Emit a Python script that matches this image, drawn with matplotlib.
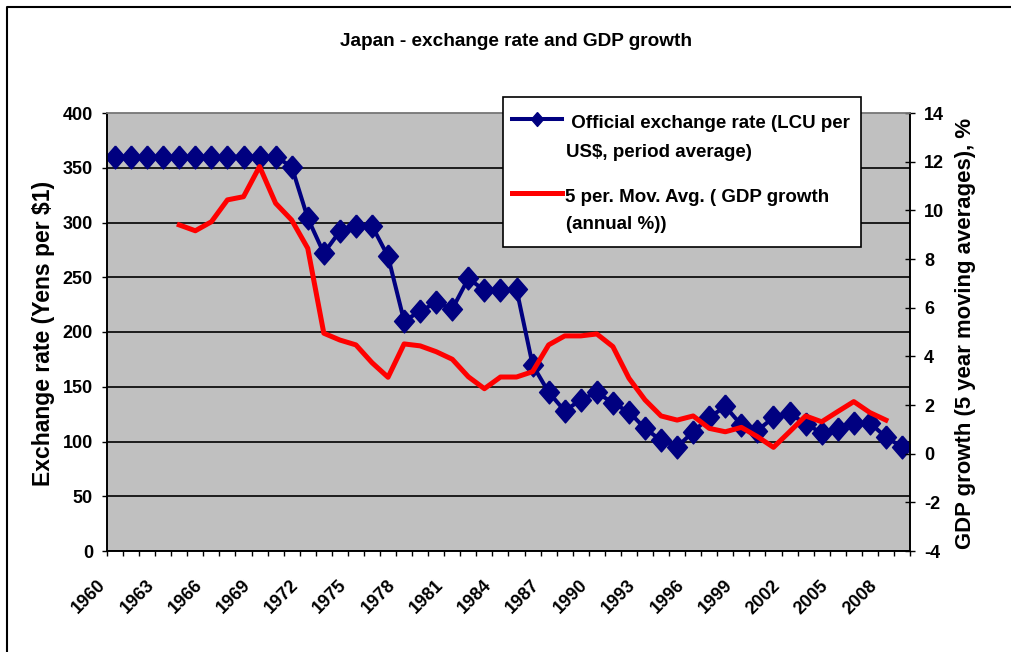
import numpy as np
import matplotlib
matplotlib.use('Agg')
import matplotlib.pyplot as plt
import matplotlib.transforms as mtransforms
from matplotlib.lines import Line2D
from matplotlib.patches import Rectangle

# data
years = list(range(1960, 2010))
exchange_rate = [360, 360, 360, 360, 360, 360, 360, 360, 360, 360, 360,
                 351, 304, 272, 292, 297, 297, 269, 210, 219, 227, 221,
                 249, 238, 238, 239, 170, 145, 128, 138, 145, 135, 127,
                 112, 101, 95, 109, 122, 132, 115, 110, 122, 126, 116,
                 108, 111, 117, 117, 104, 95]
gdp_ma = [None, None, None, None,
          9.4, 9.16, 9.53, 10.43, 10.56, 11.8, 10.29, 9.6, 8.44, 4.95,
          4.67, 4.47, 3.74, 3.14, 4.51, 4.43, 4.19, 3.88, 3.16, 2.67,
          3.15, 3.15, 3.37, 4.47, 4.84, 4.84, 4.92, 4.40, 3.10, 2.21,
          1.55, 1.38, 1.55, 1.04, 0.90, 1.08, 0.70, 0.26, 0.90, 1.55,
          1.31, 1.73, 2.14, 1.69, 1.38,
          None]
label_every = 3

title = "Japan - exchange rate and GDP growth"
left_label = "Exchange rate (Yens per $1)"
right_label = "GDP growth (5 year moving averages), %"
legend_lines = [" Official exchange rate (LCU per", "US$, period average)",
                "5 per. Mov. Avg. ( GDP growth", "(annual %))"]

NAVY = '#000080'
RED = '#FF0000'

plt.rcParams['font.family'] = ['Liberation Sans', 'DejaVu Sans']
plt.rcParams['font.weight'] = 'bold'
plt.rcParams['axes.unicode_minus'] = False

W, H = 1012, 652
fig = plt.figure(figsize=(W / 100, H / 100), dpi=100)


def fx(px):
    return px / W


def fy(py):
    return 1 - py / H


ax = fig.add_axes([fx(107), fy(551), fx(910) - fx(107), fy(113) - fy(551)])
ax.set_facecolor('#C0C0C0')
x = np.arange(len(years))

diamond = [(0, 1.15), (1, 0), (0, -1.15), (-1, 0), (0, 1.15)]
ax.plot(x, exchange_rate, color=NAVY, lw=2.9, marker=diamond, ms=16.5,
        mec=NAVY, mfc=NAVY, zorder=3)
ax.set_xlim(-0.5, len(years) - 0.5)
ax.set_ylim(0, 400)
ax.set_yticks(np.arange(0, 401, 50))
ax.yaxis.grid(True, color='black', lw=1.2)
ax.set_axisbelow(True)

ax.set_xticks(x[::label_every])
ax.set_xticklabels([str(y) for y in years[::label_every]], rotation=45,
                   ha='right', va='center', rotation_mode='anchor', fontsize=13)
ax.set_xticks(np.arange(-0.5, len(years), 1), minor=True)
ax.tick_params(axis='x', which='major', length=0, pad=23)
ax.tick_params(axis='x', which='minor', length=3.6, width=1, direction='out')
off = mtransforms.ScaledTranslation(-11.6 / 100, 0, fig.dpi_scale_trans)
for lbl in ax.get_xticklabels():
    lbl.set_transform(lbl.get_transform() + off)
ax.tick_params(axis='y', length=3.6, width=1, pad=6.5, labelsize=13)

ax2 = ax.twinx()
ax2.plot(x, [np.nan if v is None else v for v in gdp_ma], color=RED, lw=3.6,
         solid_joinstyle='round', zorder=4)
ax2.set_ylim(-4, 14)
ax2.set_yticks(np.arange(-4, 15, 2))
ax2.tick_params(axis='y', direction='inout', length=7.2, width=1, pad=6.5,
                labelsize=13)

for a in (ax, ax2):
    for s in ('left', 'right', 'bottom'):
        a.spines[s].set_color('black')
        a.spines[s].set_linewidth(1.2)
    a.spines['top'].set_color('#808080')
    a.spines['top'].set_linewidth(1.2)

fig.text(fx(516), fy(42), title, ha='center', va='center', fontsize=13.7)
fig.text(fx(44), fy(333), left_label, rotation=90, ha='center', va='center',
         fontsize=16.5)
fig.text(fx(966), fy(333), right_label, rotation=90, ha='center', va='center',
         fontsize=15.9)

# legend box drawn by hand so the keys sit at the first text line
fig.patches.append(Rectangle((fx(503), fy(247)), fx(861) - fx(503),
                             fy(97) - fy(247), transform=fig.transFigure,
                             facecolor='white', edgecolor='black', lw=1.2,
                             zorder=5))
fig.lines.append(Line2D([fx(512), fx(562)], [fy(119), fy(119)],
                        transform=fig.transFigure, color=NAVY, lw=2.9,
                        zorder=6))
fig.lines.append(Line2D([fx(537)], [fy(119)], transform=fig.transFigure,
                        color=NAVY, marker=diamond, ms=10, zorder=6))
fig.lines.append(Line2D([fx(512), fx(562)], [fy(193), fy(193)],
                        transform=fig.transFigure, color=RED, lw=3.6,
                        zorder=6))
for txt, lx, ly in zip(legend_lines, [566, 566, 565, 566], [128, 157, 202, 229]):
    fig.text(fx(lx), fy(ly), txt, ha='left', va='baseline', fontsize=13.5,
             zorder=7)

# chart area border (only left and top edges fall inside the picture)
fig.lines.append(Line2D([fx(7), fx(7), fx(1012)], [fy(652), fy(7), fy(7)],
                        transform=fig.transFigure, color='black', lw=1.5))

fig.savefig('out.png', dpi=100)
